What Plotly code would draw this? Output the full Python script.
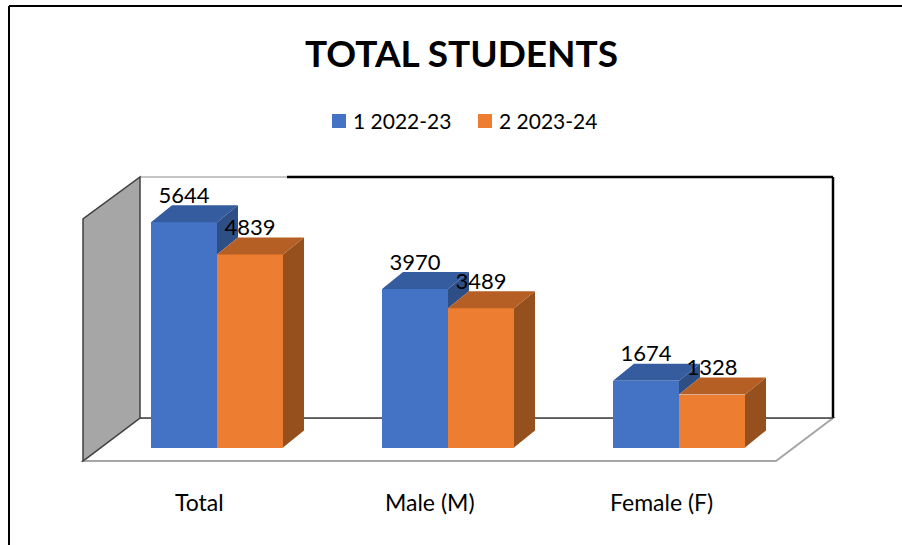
import plotly.graph_objects as go

# ---------------- data ----------------
categories = ["Total", "Male (M)", "Female (F)"]
series_names = ["1 2022-23", "2 2023-24"]
values_2022_23 = [5644, 3970, 1674]
values_2023_24 = [4839, 3489, 1328]
title_text = "TOTAL STUDENTS"

# ---------------- geometry (pixel space of the 902x545 canvas) ----------------
W, H = 902, 545
X0PX, XSTEP = 217.0, 231.0      # px of category 0 centre, px per category
Y0PX, YSCALE = 447.5, 0.0399    # px of value 0 (front plane), px per unit


def xd(px):
    return (px - X0PX) / XSTEP


def yd(py):
    return (Y0PX - py) / YSCALE


def xp(px):
    return px / W


def yp(py):
    return 1 - py / H


BAR_W = 66 / XSTEP
DX = 21 / XSTEP      # depth offset (x)
DY = 17 / YSCALE     # depth offset (y)
LABEL_UP = 25 / YSCALE

FRONT = ["#4472C4", "#ED7D31"]
TOP = ["#355C9F", "#B55F24"]
SIDE = ["#2E4E86", "#96501E"]
FONT = "Lato"

series = [values_2022_23, values_2023_24]
idx = list(range(len(categories)))
offsets = [-BAR_W, 0.0]

fig = go.Figure()

# front faces
for s, vals in enumerate(series):
    fig.add_trace(go.Bar(
        x=idx, y=vals, width=BAR_W, offset=offsets[s], base=0,
        marker=dict(color=FRONT[s], line=dict(width=0)),
        name=series_names[s], showlegend=False, hoverinfo="skip",
    ))


def poly_trace(xs, ys, color):
    return go.Scatter(x=xs, y=ys, mode="lines", fill="toself",
                      fillcolor=color, line=dict(width=0, color=color),
                      showlegend=False, hoverinfo="skip")


# top and side faces
for s, vals in enumerate(series):
    tx, ty, sx, sy = [], [], [], []
    for i, v in zip(idx, vals):
        xl = i + offsets[s]
        xr = xl + BAR_W
        # top face
        tx += [xl, xl + DX, xr + DX, xr, xl, None]
        ty += [v, v + DY, v + DY, v, v, None]
        # side face (visible part only)
        if s == len(series) - 1:
            low = 0
        else:
            low = series[s + 1][i]
        if v > low:
            sx += [xr, xr + DX, xr + DX, xr, xr, None]
            sy += [v, v + DY, low + DY, low, v, None]
    fig.add_trace(poly_trace(sx, sy, SIDE[s]))
    fig.add_trace(poly_trace(tx, ty, TOP[s]))

# value labels
for s, vals in enumerate(series):
    fig.add_trace(go.Scatter(
        x=[i + offsets[s] + BAR_W / 2 for i in idx],
        y=[v + LABEL_UP for v in vals],
        mode="text", text=[str(v) for v in vals],
        textposition="middle center",
        textfont=dict(family=FONT, size=22, color="#000000"),
        showlegend=False, hoverinfo="skip",
    ))

# ---------------- walls / floor ----------------
shapes = []
# floor
floor = [(83, 461), (140, 418), (833, 418), (776, 461)]
path = "M " + " L ".join(f"{xd(a)},{yd(b)}" for a, b in floor) + " Z"
shapes.append(dict(type="path", xref="x", yref="y", path=path,
                   fillcolor="#FFFFFF", line=dict(color="#A6A6A6", width=2),
                   layer="below"))
# back wall
shapes.append(dict(type="rect", xref="x", yref="y", x0=xd(140), x1=xd(833),
                   y0=yd(418), y1=yd(177), fillcolor="#FFFFFF",
                   line=dict(width=0), layer="below"))
shapes.append(dict(type="line", xref="x", yref="y", x0=xd(140), x1=xd(287),
                   y0=yd(177), y1=yd(177), line=dict(color="#8C8C8C", width=1),
                   layer="below"))
shapes.append(dict(type="line", xref="x", yref="y", x0=xd(287), x1=xd(833),
                   y0=yd(177), y1=yd(177), line=dict(color="#000000", width=2.5),
                   layer="below"))
shapes.append(dict(type="line", xref="x", yref="y", x0=xd(833), x1=xd(833),
                   y0=yd(177), y1=yd(418), line=dict(color="#000000", width=2.5),
                   layer="below"))
shapes.append(dict(type="line", xref="x", yref="y", x0=xd(140), x1=xd(833),
                   y0=yd(418), y1=yd(418), line=dict(color="#404040", width=1.5),
                   layer="below"))
# left wall
lw = [(83, 461), (83, 219), (140, 177), (140, 418)]
path = "M " + " L ".join(f"{xd(a)},{yd(b)}" for a, b in lw) + " Z"
shapes.append(dict(type="path", xref="x", yref="y", path=path,
                   fillcolor="#A6A6A6", line=dict(color="#404040", width=1.5),
                   layer="below"))

# outer chart border (left and top edges visible)
shapes.append(dict(type="line", xref="paper", yref="paper", x0=xp(9), x1=xp(9),
                   y0=yp(6), y1=yp(560), line=dict(color="#000000", width=2)))
shapes.append(dict(type="line", xref="paper", yref="paper", x0=xp(9), x1=xp(910),
                   y0=yp(6), y1=yp(6), line=dict(color="#000000", width=2)))

# legend squares
legend_sq_x = [332, 478]
for s in range(len(series_names)):
    shapes.append(dict(type="rect", xref="paper", yref="paper",
                       x0=xp(legend_sq_x[s]), x1=xp(legend_sq_x[s] + 14),
                       y0=yp(128), y1=yp(114), fillcolor=FRONT[s],
                       line=dict(width=0)))

annotations = []
annotations.append(dict(text="<b>" + title_text + "</b>", x=xp(461.5), y=yp(52.5),
                        xref="paper", yref="paper", showarrow=False,
                        xanchor="center", yanchor="middle",
                        font=dict(family=FONT, size=37, color="#000000")))
for s in range(len(series_names)):
    annotations.append(dict(text=series_names[s], x=xp(legend_sq_x[s] + 19),
                            y=yp(120), xref="paper", yref="paper",
                            showarrow=False, xanchor="left", yanchor="middle",
                            font=dict(family=FONT, size=21, color="#000000")))
for i, c in zip(idx, categories):
    annotations.append(dict(text=c, x=i - 18 / XSTEP, y=yd(501.5), xref="x",
                            yref="y", showarrow=False, xanchor="center",
                            yanchor="middle",
                            font=dict(family=FONT, size=23, color="#000000")))

fig.update_layout(
    width=W, height=H,
    margin=dict(l=0, r=0, t=0, b=0, pad=0),
    paper_bgcolor="#FFFFFF", plot_bgcolor="rgba(0,0,0,0)",
    showlegend=False,
    bargap=0, barmode="overlay",
    xaxis=dict(range=[xd(0), xd(W)], visible=False, fixedrange=True),
    yaxis=dict(range=[yd(H), yd(0)], visible=False, fixedrange=True),
    shapes=shapes, annotations=annotations,
)

fig.write_html("out.html", config={"displayModeBar": False},
               post_script="document.body.style.margin='0';document.body.style.overflow='hidden';")
